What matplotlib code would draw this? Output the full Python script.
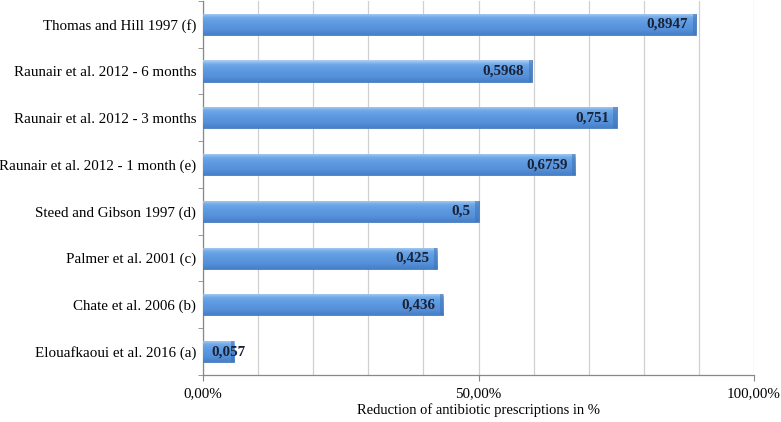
import matplotlib
matplotlib.use("Agg")
import matplotlib.pyplot as plt
import numpy as np
from matplotlib.colors import LinearSegmentedColormap

categories = [
    "Elouafkaoui et al. 2016 (a)",
    "Chate et al. 2006 (b)",
    "Palmer et al. 2001 (c)",
    "Steed and Gibson 1997 (d)",
    "Raunair et al. 2012 - 1 month (e)",
    "Raunair et al. 2012 - 3 months",
    "Raunair et al. 2012 - 6 months",
    "Thomas and Hill 1997 (f)",
]
values = [0.057, 0.436, 0.425, 0.5, 0.6759, 0.751, 0.5968, 0.8947]
value_labels = ["0,057", "0,436", "0,425", "0,5", "0,6759", "0,751", "0,5968", "0,8947"]
xticks = [0.0, 0.5, 1.0]
xtick_labels = ["0,00%", "50,00%", "100,00%"]
xlabel = "Reduction of antibiotic prescriptions in %"

plt.rcParams['font.family'] = ['Liberation Serif', 'DejaVu Serif']
FS = 10.8

fig = plt.figure(figsize=(7.81, 4.22), dpi=100)
ax = fig.add_axes([203/781, 1 - 375/422, (754-203)/781, 375/422 - 0.002])

y = np.arange(len(categories))
h = 0.45
bars = ax.barh(y, values, height=h, color="#5b96dc", edgecolor="#4a7cbc", linewidth=0.6, zorder=3)

cmap = LinearSegmentedColormap.from_list(
    "bev", [(0.0, "#4680c8"), (0.25, "#5590d8"), (0.6, "#5f9ce2"), (0.82, "#72aae8"), (1.0, "#b2d1f4")])
grad = np.linspace(0, 1, 64).reshape(-1, 1)
for b, yi, v in zip(bars, y, values):
    im = ax.imshow(grad, extent=[0, v, yi - h/2, yi + h/2], origin='lower', cmap=cmap,
                   aspect='auto', zorder=3.5, interpolation='bicubic')
    im.set_clip_path(b)
# slightly darker bevel at the right end of each bar
ax.barh(y, [0.006]*len(values), left=[v - 0.006 for v in values], height=h,
        color="#3f72b4", alpha=0.55, linewidth=0, zorder=4)

for yi, v, lab in zip(y, values, value_labels):
    if v < 0.1:
        ax.text(0.015, yi, lab, ha='left', va='center', fontsize=FS, fontweight='bold', color='#1a2238', zorder=5)
    else:
        ax.text(v - 0.014, yi, lab, ha='right', va='center', fontsize=FS, fontweight='bold', color='#1a2238', zorder=5)

ax.set_xlim(0, 1.0)
ax.set_ylim(-0.5, len(categories) - 0.5)
ax.set_xticks(np.arange(0.1, 1.0001, 0.1), minor=True)
ax.set_xticks(xticks)
ax.set_xticklabels(xtick_labels, fontsize=FS)
ax.set_yticks(y)
ax.set_yticklabels(categories, fontsize=FS)
ax.set_yticks(np.arange(-0.5, len(categories), 1.0), minor=True)
ax.tick_params(axis='y', which='major', length=0, pad=5)
ax.tick_params(axis='y', which='minor', length=3.5, color='#888888', direction='out')
ax.tick_params(axis='x', which='major', length=4, color='#888888', direction='out', pad=5)
ax.tick_params(axis='x', which='minor', length=0)
ax.grid(True, axis='x', which='both', color='#d0d0d0', linewidth=0.9, zorder=0)
ax.set_axisbelow(True)
for s in ['top', 'right']:
    ax.spines[s].set_visible(False)
for s in ['left', 'bottom']:
    ax.spines[s].set_color('#888888')
    ax.spines[s].set_linewidth(0.9)
ax.set_xlabel(xlabel, fontsize=10.5, labelpad=2)

fig.savefig("out.png", dpi=100)
